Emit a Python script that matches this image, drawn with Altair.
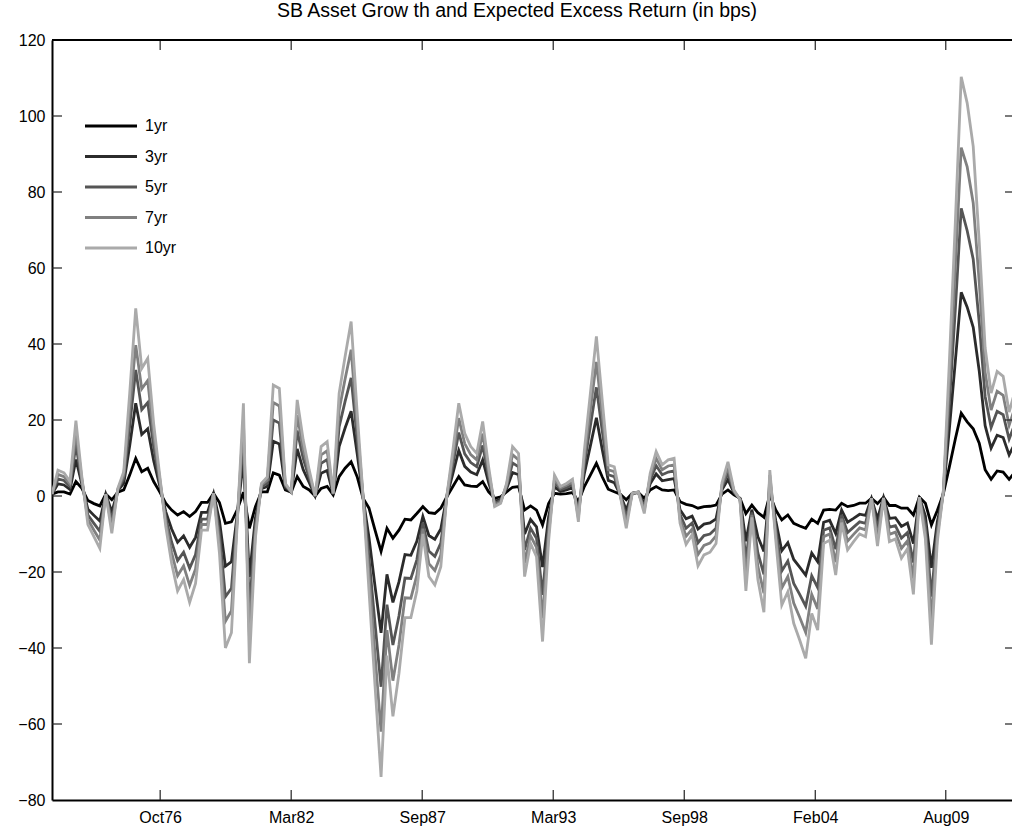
import altair as alt
import pandas as pd

TITLE = "SB Asset Grow th and Expected Excess Return (in bps)"
FONT = "Liberation Sans"

SERIES = ["1yr", "3yr", "5yr", "7yr", "10yr"]
COLORS = ["#000000", "#2b2b2b", "#555555", "#808080", "#aaaaaa"]

# quarter-end observation dates, 1972Q1 .. 2012Q2
QUARTER_ENDS = ["03-31", "06-30", "09-30", "12-31"]
DATES = [f"{y}-{q}" for y in range(1972, 2013) for q in QUARTER_ENDS][:162]

ONE_YR = [
    0.5, 1.1, 1.1, 0.5, 3.8, 2.0, -1.2, -2.0, -2.6, 0.5,
    -1.0, 1.0, 1.6, 5.5, 9.9, 6.4, 7.3, 3.8, 1.1, -1.9,
    -3.7, -5.0, -4.1, -5.4, -4.1, -1.7, -1.7, 0.7, -1.7, -7.2,
    -6.8, -3.5, 1.0, -8.5, -2.8, 1.1, 1.1, 6.1, 5.5, 1.6,
    1.0, 5.1, 2.5, 1.6, 0.0, 2.0, 2.5, 0.3, 5.1, 7.3,
    9.0, 5.1, -0.6, -3.2, -9.0, -14.6, -8.5, -11.1, -9.0, -6.1,
    -6.3, -4.6, -2.8, -4.4, -4.6, -3.2, -0.2, 2.5, 5.1, 2.9,
    2.6, 2.5, 3.8, 1.1, -0.6, -0.2, 1.1, 2.3, 2.5, -3.7,
    -2.6, -3.7, -7.6, -2.0, 0.7, 0.5, 0.6, 0.9, -1.5, 2.5,
    5.5, 8.6, 5.0, 1.8, 1.1, 0.5, -1.0, 0.7, 0.9, -0.6,
    1.6, 2.5, 1.6, 1.4, 1.6, -1.5, -2.2, -2.5, -3.2, -2.8,
    -2.7, -2.4, 0.5, 1.6, 0.3, -0.6, -4.6, -2.4, -4.4, -5.6,
    0.3, -3.7, -6.3, -5.0, -7.2, -7.9, -8.5, -6.1, -7.2, -3.7,
    -3.5, -3.7, -1.9, -2.8, -2.5, -1.9, -1.9, -0.6, -2.0, -0.3,
    -2.5, -2.5, -3.2, -3.2, -5.0, -0.3, -1.9, -7.6, -3.8, 0.5,
    7.6, 15.0, 21.8, 19.5, 17.7, 13.9, 6.9, 4.4, 6.6, 6.3,
    4.4, 6.3,
]

THREE_YR = [
    0.5, 3.2, 2.9, 1.7, 9.6, 3.1, -3.5, -5.1, -6.6, 0.5,
    -4.2, 1.4, 3.3, 13.2, 24.4, 16.2, 17.7, 9.3, 2.7, -4.1,
    -8.7, -12.2, -10.5, -13.5, -10.9, -4.3, -4.3, 0.7, -6.5, -18.5,
    -17.3, -4.4, 9.4, -21.3, -5.8, 1.9, 2.5, 14.4, 13.7, 2.2,
    1.0, 12.4, 6.9, 3.5, 0.0, 6.0, 6.7, 0.4, 13.0, 17.9,
    22.3, 11.2, -0.4, -11.0, -23.8, -36.0, -20.6, -28.0, -22.6, -15.4,
    -15.6, -11.9, -5.4, -10.4, -11.4, -8.7, -0.1, 5.9, 12.0, 7.8,
    6.3, 5.6, 9.5, 3.5, -1.4, -0.8, 1.9, 6.2, 5.6, -10.0,
    -6.2, -8.1, -18.7, -5.6, 2.4, 1.2, 1.6, 2.2, -3.4, 5.9,
    13.2, 20.6, 12.2, 4.1, 3.5, 0.3, -3.7, 0.7, 1.0, -2.0,
    3.2, 5.8, 4.0, 4.3, 4.6, -3.6, -6.0, -5.3, -8.7, -7.4,
    -7.1, -6.0, 1.6, 4.3, 0.8, -0.7, -11.9, -3.6, -10.7, -14.6,
    2.6, -6.5, -14.4, -12.3, -16.7, -18.7, -20.8, -15.0, -17.3, -6.9,
    -6.4, -9.9, -3.7, -6.9, -5.9, -4.8, -5.1, -0.6, -6.0, -0.4,
    -5.9, -5.7, -8.0, -7.1, -12.5, -0.3, -5.3, -18.9, -6.8, 0.7,
    17.5, 35.5, 53.6, 49.7, 44.4, 32.9, 18.5, 12.6, 16.0, 15.4,
    10.8, 14.0,
]

FIVE_YR = [
    0.5, 4.5, 4.1, 2.5, 13.4, 3.8, -5.0, -7.2, -9.3, 0.5,
    -6.3, 1.6, 4.5, 18.4, 33.2, 22.7, 24.6, 12.9, 3.7, -5.6,
    -12.1, -17.0, -14.8, -19.0, -15.4, -6.1, -6.1, 0.7, -9.7, -26.5,
    -24.3, -5.0, 15.0, -29.8, -7.7, 2.4, 3.4, 20.0, 19.2, 2.6,
    1.1, 17.2, 9.8, 4.7, 0.0, 8.6, 9.6, 0.5, 18.2, 24.9,
    31.1, 15.2, -0.2, -16.3, -33.6, -50.2, -28.6, -39.2, -31.6, -21.6,
    -21.7, -16.8, -7.1, -14.5, -15.9, -12.4, -0.1, 8.2, 16.7, 11.1,
    8.8, 7.7, 13.3, 5.1, -1.9, -1.2, 2.4, 8.7, 7.7, -14.2,
    -8.5, -11.1, -26.0, -8.0, 3.6, 1.7, 2.2, 3.0, -4.7, 8.2,
    18.4, 28.6, 17.0, 5.6, 5.1, 0.2, -5.5, 0.7, 1.0, -3.0,
    4.2, 8.0, 5.6, 6.3, 6.6, -4.9, -8.5, -7.1, -12.3, -10.4,
    -10.0, -8.5, 2.3, 6.0, 1.1, -0.8, -16.8, -4.3, -15.0, -20.6,
    4.2, -8.4, -19.7, -17.1, -23.0, -25.9, -29.0, -21.0, -24.1, -9.0,
    -8.4, -14.0, -5.0, -9.6, -8.2, -6.8, -7.2, -0.6, -8.7, -0.5,
    -8.2, -7.8, -11.1, -9.6, -17.5, -0.3, -7.5, -26.5, -8.7, 0.8,
    24.0, 49.2, 75.7, 69.8, 62.3, 45.6, 26.2, 18.0, 22.3, 21.4,
    15.0, 19.1,
]

SEVEN_YR = [
    0.5, 5.7, 5.1, 3.1, 16.6, 4.4, -6.2, -9.0, -11.6, 0.5,
    -8.0, 1.8, 5.4, 22.7, 39.7, 28.2, 30.4, 16.0, 4.6, -6.8,
    -14.9, -21.0, -18.4, -23.5, -19.2, -7.5, -7.5, 0.7, -12.3, -33.0,
    -30.2, -5.5, 19.7, -36.9, -9.4, 2.9, 4.2, 24.6, 23.7, 3.0,
    1.1, 21.3, 12.3, 5.8, 0.0, 10.8, 11.9, 0.6, 22.6, 30.8,
    38.5, 18.6, -0.1, -20.6, -41.8, -62.0, -35.3, -48.6, -39.2, -26.8,
    -26.9, -20.9, -8.6, -17.8, -19.6, -15.5, 0.0, 10.1, 20.5, 13.8,
    10.9, 9.5, 16.4, 6.4, -2.4, -1.6, 2.9, 10.9, 9.5, -17.7,
    -10.5, -13.5, -32.2, -10.0, 4.5, 2.1, 2.8, 3.7, -5.7, 10.1,
    22.7, 35.3, 21.0, 6.9, 6.4, 0.1, -7.0, 0.7, 1.1, -3.8,
    5.1, 9.9, 6.9, 7.9, 8.2, -6.1, -10.6, -8.7, -15.4, -13.0,
    -12.4, -10.5, 2.9, 7.5, 1.3, -0.9, -20.9, -5.0, -18.5, -25.6,
    5.5, -10.0, -24.2, -21.2, -28.2, -31.9, -35.9, -25.9, -29.7, -10.7,
    -10.0, -17.4, -6.0, -11.9, -10.1, -8.4, -8.9, -0.6, -11.0, -0.5,
    -10.1, -9.5, -13.8, -11.8, -21.7, -0.3, -9.4, -32.8, -10.4, 0.9,
    29.5, 60.6, 91.7, 86.6, 77.1, 56.2, 32.6, 22.6, 27.6, 26.5,
    18.6, 23.4,
]

TEN_YR = [
    0.5, 6.8, 6.1, 3.8, 19.8, 5.0, -7.5, -10.7, -13.8, 0.5,
    -9.8, 2.0, 6.4, 27.0, 49.4, 33.6, 36.2, 19.0, 5.5, -8.0,
    -17.7, -25.0, -22.0, -28.0, -23.0, -9.0, -9.0, 0.7, -15.0, -40.0,
    -36.0, -6.0, 24.4, -44.0, -11.0, 3.3, 5.0, 29.2, 28.3, 3.3,
    1.1, 25.3, 14.7, 6.8, 0.0, 13.0, 14.3, 0.7, 27.0, 36.7,
    45.9, 22.0, 0.0, -25.0, -50.0, -73.9, -42.0, -58.0, -46.7, -32.0,
    -32.0, -25.0, -10.0, -21.2, -23.4, -18.6, 0.0, 12.0, 24.4, 16.5,
    13.0, 11.2, 19.6, 7.7, -2.8, -1.9, 3.3, 13.0, 11.2, -21.2,
    -12.5, -16.0, -38.3, -12.0, 5.5, 2.5, 3.3, 4.4, -6.8, 12.0,
    27.0, 42.0, 25.0, 8.2, 7.7, 0.0, -8.5, 0.7, 1.1, -4.6,
    6.0, 11.7, 8.2, 9.5, 9.9, -7.2, -12.7, -10.2, -18.4, -15.5,
    -14.8, -12.5, 3.5, 9.0, 1.6, -1.0, -25.0, -5.6, -22.0, -30.6,
    6.8, -11.6, -28.7, -25.2, -33.5, -37.9, -42.7, -30.9, -35.3, -12.5,
    -11.6, -20.8, -7.0, -14.2, -12.0, -10.0, -10.7, -0.6, -13.2, -0.6,
    -12.0, -11.3, -16.4, -13.9, -25.9, -0.3, -11.3, -39.1, -12.0, 1.0,
    35.0, 72.0, 110.3, 103.4, 92.0, 66.8, 39.0, 27.1, 32.8, 31.5,
    22.1, 27.7,
]

VALUES = {"1yr": ONE_YR, "3yr": THREE_YR, "5yr": FIVE_YR, "7yr": SEVEN_YR, "10yr": TEN_YR}

# date ticks (MATLAB datenum 722000, 724000, ... 734000) and the right end of the view
X_TICK_DATES = ["1976-10-07", "1982-03-30", "1987-09-20", "1993-03-12",
                "1998-09-02", "2004-02-23", "2009-08-07"]
X_TICK_LABELS = ["Oct76", "Mar82", "Sep87", "Mar93", "Sep98", "Feb04", "Aug09"]
X_END = "2012-05-14"
Y_TICKS = [-80, -60, -40, -20, 0, 20, 40, 60, 80, 100, 120]


def ms(d):
    return int(pd.Timestamp(d, tz="UTC").value // 10**6)


W, H = 960, 760

df = pd.DataFrame(
    [{"date": d, "series": s, "value": v}
     for s in SERIES for d, v in zip(DATES, VALUES[s])]
)

x_scale = alt.Scale(type="utc", domain=[ms(DATES[0]), ms(X_END)])
y_scale = alt.Scale(domain=[-80, 120], nice=False, zero=False)
color_scale = alt.Scale(domain=SERIES, range=COLORS)

label_expr = " : ".join(
    f"utcFormat(datum.value, '%b%y') == '{lab}' ? '{lab}'" for lab in X_TICK_LABELS
) + " : ''"

x_axis = alt.Axis(values=[ms(d) for d in X_TICK_DATES], labelExpr=label_expr,
                  ticks=False, grid=False, domainColor="#000000", domainWidth=2,
                  labelFont=FONT, labelFontSize=16, labelColor="#000000",
                  labelPadding=9, labelAngle=0, labelFlush=False,
                  labelOverlap=False, title=None)
y_axis = alt.Axis(values=Y_TICKS, ticks=False, grid=False,
                  domainColor="#000000", domainWidth=2,
                  labelFont=FONT, labelFontSize=16, labelColor="#000000",
                  labelPadding=7, labelFlush=False, labelOverlap=False,
                  title=None)

X_ENC = alt.X("date:T", scale=x_scale, axis=x_axis)
Y_ENC = alt.Y("value:Q", scale=y_scale, axis=y_axis)

base = alt.Chart(df)
line_layers = [
    base.transform_filter(alt.datum.series == s)
    .mark_line(strokeWidth=2.8, clip=True)
    .encode(
        x=X_ENC, y=Y_ENC,
        color=alt.Color("series:N", scale=color_scale, legend=None),
    )
    for s in SERIES
]

# inward tick marks on all four sides (same fields as the lines, so axes merge)
ytick_df = pd.DataFrame({"value": Y_TICKS[1:-1]})
xtick_df = pd.DataFrame({"date": [ms(d) for d in X_TICK_DATES]})
tick_style = dict(color="#222222", strokeWidth=1.2)

left_ticks = alt.Chart(ytick_df).mark_rule(**tick_style).encode(
    y=Y_ENC, x=alt.value(0), x2=alt.value(10))
right_ticks = alt.Chart(ytick_df).mark_rule(**tick_style).encode(
    y=Y_ENC, x=alt.value(W - 7), x2=alt.value(W))
bottom_ticks = alt.Chart(xtick_df).mark_rule(**tick_style).encode(
    x=X_ENC, y=alt.value(H - 10), y2=alt.value(H))
top_ticks = alt.Chart(xtick_df).mark_rule(**tick_style).encode(
    x=X_ENC, y=alt.value(0), y2=alt.value(10))
top_border = alt.Chart(xtick_df).mark_rule(color="#000000", strokeWidth=2).encode(
    x=alt.value(0), x2=alt.value(W), y=alt.value(0))

main = alt.layer(*line_layers, left_ticks, right_ticks, bottom_ticks, top_ticks,
                 top_border)

# legend in the upper-left corner of the axes
legend_df = pd.DataFrame({"series": SERIES})
leg_y = alt.Y("series:N", axis=None,
              scale=alt.Scale(type="point", domain=SERIES, range=[86, 208], padding=0))
legend_lines = alt.Chart(legend_df).mark_rule(strokeWidth=2.8).encode(
    y=leg_y, x=alt.value(33), x2=alt.value(85),
    color=alt.Color("series:N", scale=color_scale, legend=None))
legend_text = alt.Chart(legend_df).mark_text(
    align="left", baseline="middle", font=FONT, fontSize=16, color="#000000"
).encode(y=leg_y, x=alt.value(93), text="series:N")
legend = alt.layer(legend_lines, legend_text)

chart = (
    alt.layer(main, legend)
    .resolve_scale(y="independent")
    .properties(
        width=W, height=H,
        title=alt.TitleParams(text=TITLE, font=FONT, fontSize=19.5,
                              fontWeight="normal", color="#000000",
                              anchor="middle", frame="group",
                              baseline="alphabetic", offset=0, dy=4, dx=-15),
        autosize=alt.AutoSizeParams(type="none"),
        padding={"left": 52, "top": 40, "right": 0, "bottom": 35},
        background="#ffffff",
    )
    .configure_view(strokeWidth=0)
)

chart.save("out.html", embed_options={"renderer": "svg", "actions": False})
